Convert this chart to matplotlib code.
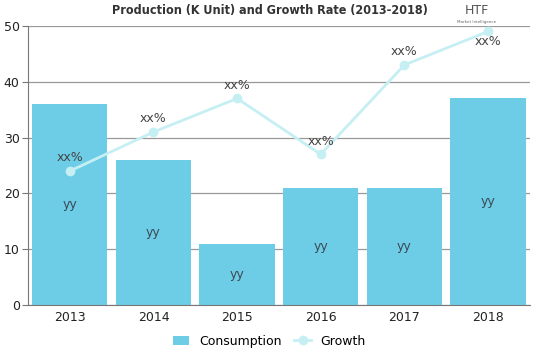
import numpy as np
import matplotlib.pyplot as plt

years = ['2013', '2014', '2015', '2016', '2017', '2018']
consumption = [36, 26, 11, 21, 21, 37]
growth = [24, 31, 37, 27, 43, 49]
bar_labels = ['yy'] * 6
line_labels = ['xx%'] * 6

fig = plt.figure(figsize=(5.39, 3.59), dpi=100)
ax = fig.add_axes([0.052, 0.150, 0.931, 0.778])

x = np.arange(len(years))
ax.bar(x, consumption, width=0.9, color='#6ecde6', label='Consumption', zorder=2)
ax.plot(x, growth, color='#c6eff4', lw=2, marker='o', ms=6, label='Growth', zorder=3)

for i in x:
    ax.text(i, consumption[i] / 2, bar_labels[i], ha='center', va='center',
            fontsize=9, color='#3a4a55', zorder=4)
    if growth[i] > 46:
        # no room above the top, label goes under the point
        ax.text(i, growth[i] - 1.8, line_labels[i], ha='center', va='center',
                fontsize=9, color='#444444', zorder=4)
    else:
        ax.text(i, growth[i] + 1.2, line_labels[i], ha='center', va='bottom',
                fontsize=9, color='#444444', zorder=4)

ax.set_xlim(-0.5, 5.5)
ax.set_ylim(0, 50)
ax.set_yticks(range(0, 51, 10))
ax.set_xticks(x)
ax.set_xticklabels(years)
ax.grid(axis='y', color='#999999', lw=0.9, zorder=0)
ax.set_axisbelow(True)
for s in ['top', 'right']:
    ax.spines[s].set_visible(False)
ax.spines['left'].set_color('#777777')
ax.spines['bottom'].set_color('#777777')
ax.tick_params(axis='y', length=4, color='#777777', labelsize=9, labelcolor='#222222', pad=2)
ax.tick_params(axis='x', length=0, labelsize=9, labelcolor='#222222', pad=4)

fig.text(0.5, 0.972, 'Production (K Unit) and Growth Rate (2013-2018)', ha='center', va='center',
         fontsize=9, fontweight='heavy', fontstretch='condensed', color='#333333',
         family='DejaVu Sans')

fig.text(0.885, 0.97, 'HTF', ha='center', va='center', fontsize=9, color='#555555')
fig.text(0.885, 0.94, 'Market Intelligence', ha='center', va='center', fontsize=3, color='#666666')

h, l = ax.get_legend_handles_labels()
fig.legend(h[::-1], l[::-1], loc='lower center', bbox_to_anchor=(0.5, 0.0), ncol=2, frameon=False,
           fontsize=9, handlelength=1.3, columnspacing=1.0)

fig.savefig('out.png', dpi=100)
